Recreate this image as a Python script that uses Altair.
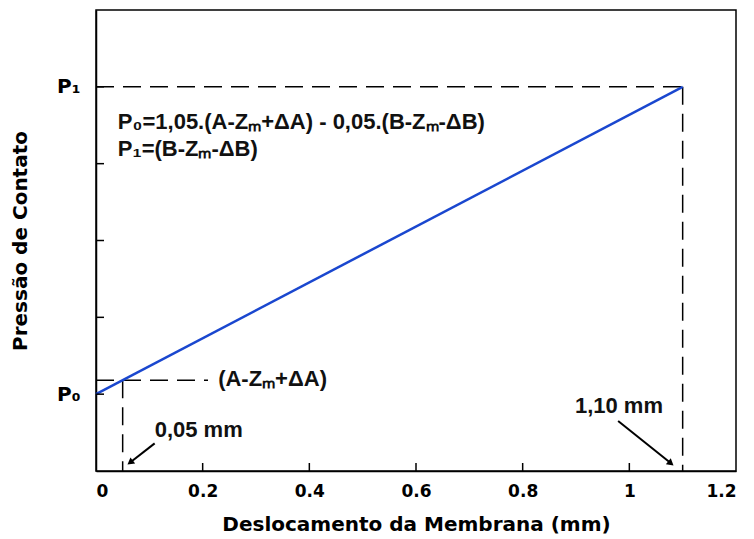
import altair as alt
import pandas as pd

# data
line_x = [0.0, 1.1]
line_y = [0.0, 4.0]
x_ticks = [0, 0.2, 0.4, 0.6, 0.8, 1.0, 1.2]
y_ticks = [0, 1, 2, 3, 4]
y_tick_labels = ["P₀", "", "", "", "P₁"]
# dashed guides: (x, y, x2, y2)
guide_x = [0.0, 1.1, 0.0, 0.05]
guide_y = [4.0, 4.0, 0.18, 0.18]
guide_x2 = [1.1, 1.1, 0.21, 0.05]
guide_y2 = [4.0, -1.0, 0.18, -1.0]
# annotations
ann_text = ["P₀=1,05.(A-Zₘ+ΔA) - 0,05.(B-Zₘ-ΔB)", "P₁=(B-Zₘ-ΔB)", "(A-Zₘ+ΔA)", "0,05 mm", "1,10 mm"]
ann_x = [0.041, 0.041, 0.229, 0.11, 0.898]
ann_y = [3.54, 3.19, 0.2, -0.46, -0.16]
# arrows (start -> end)
arr_x = [0.11, 0.979]
arr_y = [-0.64, -0.35]
arr_x2 = [0.064, 1.078]
arr_y2 = [-0.89, -0.9]

W, H = 640, 461
FONT = "DejaVu Sans"

xs = alt.Scale(domain=[0, 1.2], nice=False, zero=False)
ys = alt.Scale(domain=[-1, 5], nice=False, zero=False)

label_expr = "{" + ",".join(f"'{v}':'{l}'" for v, l in zip(y_ticks, y_tick_labels)) + "}[datum.value]"

line_df = pd.DataFrame({"x": line_x, "y": line_y})
base = alt.Chart(line_df).mark_line(color="#1a47cf", strokeWidth=2.5).encode(
    x=alt.X("x:Q", scale=xs,
            axis=alt.Axis(values=x_ticks, title="Deslocamento da Membrana (mm)", ticks=False,
                          labelPadding=12, titlePadding=15, grid=False,
                          labelExpr="datum.value == 0 ? '0' : datum.value == 1 ? '1' : format(datum.value, '.1f')")),
    y=alt.Y("y:Q", scale=ys,
            axis=alt.Axis(values=y_ticks, title="Pressão de Contato", ticks=False, labelExpr=label_expr,
                          labelPadding=16, titlePadding=26, grid=False, labelFontSize=20)),
)

guide_df = pd.DataFrame({"x": guide_x, "y": guide_y, "x2": guide_x2, "y2": guide_y2})
guides = alt.Chart(guide_df).mark_rule(color="black", strokeWidth=1.5, strokeDash=[18, 9]).encode(
    x=alt.X("x:Q", scale=xs), y=alt.Y("y:Q", scale=ys), x2="x2:Q", y2="y2:Q")

xt_df = pd.DataFrame({"v": x_ticks[1:-1]})
xticks = alt.Chart(xt_df).mark_rule(color="black", strokeWidth=1.5).encode(
    x=alt.X("v:Q", scale=xs), y=alt.value(H), y2=alt.value(H - 8))
yt_df = pd.DataFrame({"v": y_ticks})
yticks = alt.Chart(yt_df).mark_rule(color="black", strokeWidth=1.5).encode(
    y=alt.Y("v:Q", scale=ys), x=alt.value(0), x2=alt.value(8))

ann_df = pd.DataFrame({"t": ann_text, "x": ann_x, "y": ann_y})
ann = alt.Chart(ann_df).mark_text(align="left", baseline="middle", font="Liberation Sans",
                                  fontWeight="bold", fontSize=22, color="#111").encode(
    x=alt.X("x:Q", scale=xs), y=alt.Y("y:Q", scale=ys), text="t:N")

arr_df = pd.DataFrame({"x": arr_x, "y": arr_y, "x2": arr_x2, "y2": arr_y2})
arrows = alt.Chart(arr_df).mark_rule(color="black", strokeWidth=2).encode(
    x=alt.X("x:Q", scale=xs), y=alt.Y("y:Q", scale=ys), x2="x2:Q", y2="y2:Q")
arr_head_df = pd.DataFrame({"x": arr_x2, "y": arr_y2,
                            "a": [233, 129]})
heads = alt.Chart(arr_head_df).mark_point(shape="triangle-up", filled=True, color="black",
                                          size=60, opacity=1).encode(
    x=alt.X("x:Q", scale=xs), y=alt.Y("y:Q", scale=ys), angle=alt.Angle("a:Q", scale=None))

chart = alt.layer(guides, base, xticks, yticks, arrows, heads, ann).properties(
    width=W, height=H,
    autosize=alt.AutoSizeParams(type="none"),
    padding={"left": 96, "top": 10, "right": 18, "bottom": 68},
).configure_view(stroke="black", strokeWidth=1.5).configure_axis(
    domainColor="black", domainWidth=1.5, labelColor="black", titleColor="black",
    labelFont=FONT, titleFont=FONT, labelFontWeight="bold", titleFontWeight="bold",
    labelFontSize=17, titleFontSize=20,
).configure_axisY(labelAngle=0)

chart.save("out.html", embed_options={"renderer": "svg", "actions": False})
